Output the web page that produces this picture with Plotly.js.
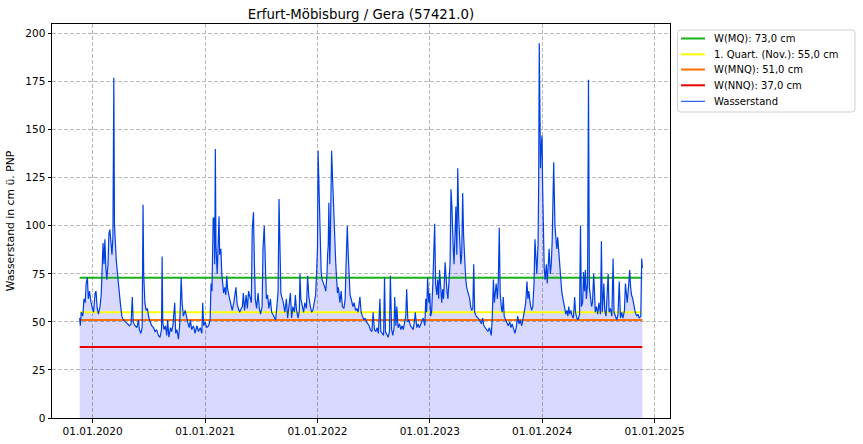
<!DOCTYPE html>
<html><head><meta charset="utf-8">
<script src="https://cdn.plot.ly/plotly-3.0.1.min.js"></script>
<style>body{margin:0;background:#fff}#chart{width:863px;height:444px}</style>
</head><body><div id="chart"></div>
<script>
// Water level series: days since 2020-01-01 and level in cm
const dayOffsets = [
-42,-40,-37,-32,-28,-24,-21,-17,-14,-10,-5,-1,3,8,11,15,19,24,28,31,34,37,40,43,46,50,53,56,59,63,66,69,71,73,77,81,85,90,95,100,107,113,120,125,129,132,138,144,149,152,157,161,164,166,170,174,178,183,187,192,198,203,208,214,219,224,226,228,232,237,241,244,248,253,257,261,267,270,274,279,283,
288,291,295,301,305,309,314,318,322,328,333,339,344,350,355,358,361,366,371,377,382,385,388,392,395,397,399,401,405,408,411,413,417,420,423,426,430,433,436,439,444,447,450,454,459,463,466,470,474,478,483,487,490,494,499,503,507,512,516,519,523,526,529,533,538,542,546,551,554,558,562,565,569,573,578,582,586,591,595,599,603,606,609,612,
615,620,625,630,634,638,643,647,651,656,659,663,668,672,674,677,682,686,690,695,699,703,708,712,716,721,725,728,731,733,737,740,743,746,751,755,758,762,764,766,768,771,773,777,780,783,786,790,793,796,799,804,808,812,817,821,824,828,831,834,837,842,846,850,855,859,863,869,873,877,882,886,890,895,899,903,908,912,916,921,925,929,934,937,941,946,949,952,
955,961,965,968,972,976,980,982,986,989,993,998,1002,1006,1010,1015,1018,1021,1025,1029,1033,1038,1042,1046,1049,1054,1058,1062,1067,1071,1075,1080,1083,1086,1089,1093,1096,1099,1102,1106,1109,1112,1115,1119,1122,1125,1128,1132,1135,1138,1141,1146,1149,1152,1155,1159,1162,1165,1168,1172,1175,1178,1181,1184,1187,1190,1193,1197,1200,1203,1206,1210,1213,1216,1219,1222,1226,1229,1232,1236,1239,1242,1247,1253,1258,1264,1268,1272,1277,1281,1285,1290,1294,
1296,1299,1303,1306,1309,1312,1316,1319,1322,1325,1329,1332,1335,1338,1343,1347,1351,1356,1360,1364,1369,1373,1377,1382,1386,1390,1395,1399,1403,1408,1412,1415,1418,1423,1427,1431,1435,1438,1441,1444,1448,1450,1452,1454,1456,1458,1461,1463,1465,1468,1471,1475,1478,1481,1484,1488,1491,1494,1497,1499,1503,1506,1509,1512,1516,1519,1522,1525,1529,1532,1535,1538,1542,1545,1548,1551,1555,1559,1563,1567,1570,1574,1578,1583,1586,1589,1593,1596,1599,1602,1605,1609,1612,1615,1618,1622,1625,1629,1633,
1634,1638,1642,1646,1651,1654,1657,1662,1665,1669,1672,1676,1679,1683,1688,1692,1695,1699,1704,1708,1712,1716,1720,1724,1729,1732,1735,1738,1743,1746,1749,1752,1756,1760,1764,1769,1773,1777,1782,1785,1787
];
const levels = [
52,48,55,53,62,60,70,73,62,66,60,57,55,65,66,57,54,58,64,78,91,80,93,78,72,80,96,98,90,85,94,177,101,92,82,75,66,60,53,51,50,49,48,49,63,50,48,47,51,46,44,47,111,75,60,56,57,52,50,48,47,45,46,43,42,46,84,50,46,48,43,51,42,47,45,48,60,44,46,41,48,
73,60,53,56,52,50,47,51,46,48,44,48,45,47,44,60,48,50,47,48,51,70,66,104,104,80,140,90,75,86,105,85,88,75,70,65,68,64,74,67,63,61,58,56,60,66,68,59,57,55,57,58,65,56,64,57,66,62,60,98,107,80,62,57,65,57,54,58,88,100,80,62,64,57,62,55,54,52,51,58,66,114,75,65,
63,60,55,62,52,57,65,52,58,55,64,56,52,56,75,62,57,55,60,57,74,63,58,55,56,60,64,75,88,139,110,85,76,72,70,68,66,75,85,90,112,80,95,139,125,110,95,82,73,65,68,60,66,58,57,62,80,100,85,70,64,61,58,60,56,57,55,63,55,53,51,52,50,49,48,46,45,55,46,45,47,44,62,45,44,43,73,45,
44,42,45,74,46,43,47,63,48,58,47,49,46,48,46,52,53,67,50,51,48,47,46,50,55,47,49,47,49,50,52,48,62,55,73,60,65,53,55,70,90,101,70,64,72,62,77,66,60,67,62,81,70,66,62,70,80,119,110,90,80,95,110,85,130,105,90,80,85,117,95,80,72,68,66,64,62,58,56,57,80,55,53,52,51,49,52,48,47,46,45,47,44,
43,52,72,60,66,70,62,72,99,65,57,55,63,53,51,49,48,50,47,49,46,44,47,53,49,51,48,53,55,60,71,62,66,59,56,58,70,93,80,75,90,120,195,150,130,140,147,120,95,78,72,80,70,78,88,75,80,92,120,133,100,92,88,94,85,80,72,66,62,58,57,54,56,53,58,54,56,53,52,63,55,52,51,54,100,58,60,76,66,77,62,70,176,68,62,58,60,75,60,
55,58,54,60,54,92,55,70,56,53,60,75,55,57,53,83,55,53,51,54,71,52,55,52,56,70,64,60,70,77,68,64,62,58,55,53,54,52,53,83,78
];

// Reference levels
const refLabels = ['W(MQ): 73,0 cm', '1. Quart. (Nov.): 55,0 cm', 'W(MNQ): 51,0 cm', 'W(NNQ): 37,0 cm'];
const refValues = [73, 55, 51, 37];
const refColors = ['#19b019', '#ffff00', '#ff6e00', '#e60000'];
const seriesName = 'Wasserstand';
const seriesColor = '#0040e0';

const tickDates = ['2020-01-01', '2021-01-01', '2022-01-01', '2023-01-01', '2024-01-01', '2025-01-01'];
const tickLabels = ['01.01.2020', '01.01.2021', '01.01.2022', '01.01.2023', '01.01.2024', '01.01.2025'];
const yTicks = [0, 25, 50, 75, 100, 125, 150, 175, 200];

function toDate(d) {
  return new Date(Date.UTC(2020, 0, 1) + d * 86400000).toISOString().slice(0, 10);
}
const dates = dayOffsets.map(toDate);
const firstDate = dates[0], lastDate = dates[dates.length - 1];

const W = 863, H = 444;
const M = {l: 52, r: 193, t: 24, b: 26};
const pw = W - M.l - M.r, ph = H - M.t - M.b;
const px = v => (v - M.l) / pw;        // pixel x -> paper x
const py = v => (H - M.b - v) / ph;    // pixel y -> paper y

const traces = [];
traces.push({
  x: dates, y: levels, type: 'scatter', mode: 'lines',
  line: {width: 0, color: 'rgba(0,0,0,0)'}, fill: 'tozeroy', fillcolor: 'rgba(0,0,255,0.15)',
  showlegend: false, hoverinfo: 'skip'
});
refValues.forEach((v, i) => {
  traces.push({
    x: [firstDate, lastDate], y: [v, v], type: 'scatter', mode: 'lines',
    name: refLabels[i], line: {color: refColors[i], width: 2}, showlegend: false
  });
});
traces.push({
  x: dates, y: levels, type: 'scatter', mode: 'lines', name: seriesName,
  line: {color: seriesColor, width: 1.2}, showlegend: false
});

// Custom legend (matplotlib-like compact box)
const legNames = refLabels.concat([seriesName]);
const legColors = refColors.concat([seriesColor]);
const legWidths = [2, 2, 2, 2, 1];
const box = {x0: 677.5, x1: 855, y0: 30, y1: 112};
const r = 3;
const pth = [
  'M', px(box.x0 + r), py(box.y0),
  'L', px(box.x1 - r), py(box.y0),
  'Q', px(box.x1), py(box.y0), px(box.x1), py(box.y0 + r),
  'L', px(box.x1), py(box.y1 - r),
  'Q', px(box.x1), py(box.y1), px(box.x1 - r), py(box.y1),
  'L', px(box.x0 + r), py(box.y1),
  'Q', px(box.x0), py(box.y1), px(box.x0), py(box.y1 - r),
  'L', px(box.x0), py(box.y0 + r),
  'Q', px(box.x0), py(box.y0), px(box.x0 + r), py(box.y0), 'Z'
].join(' ').replace(/ (-?\d)/g, ' $1');
const shapes = [{
  type: 'path', xref: 'paper', yref: 'paper',
  path: 'M' + px(box.x0 + r) + ',' + py(box.y0) +
        ' L' + px(box.x1 - r) + ',' + py(box.y0) +
        ' Q' + px(box.x1) + ',' + py(box.y0) + ' ' + px(box.x1) + ',' + py(box.y0 + r) +
        ' L' + px(box.x1) + ',' + py(box.y1 - r) +
        ' Q' + px(box.x1) + ',' + py(box.y1) + ' ' + px(box.x1 - r) + ',' + py(box.y1) +
        ' L' + px(box.x0 + r) + ',' + py(box.y1) +
        ' Q' + px(box.x0) + ',' + py(box.y1) + ' ' + px(box.x0) + ',' + py(box.y1 - r) +
        ' L' + px(box.x0) + ',' + py(box.y0 + r) +
        ' Q' + px(box.x0) + ',' + py(box.y0) + ' ' + px(box.x0 + r) + ',' + py(box.y0) + ' Z',
  line: {color: '#d0d0d0', width: 1}, fillcolor: 'rgba(255,255,255,0.85)', layer: 'above'
}];
const annotations = [];
const rowY = [38.5, 54.3, 69.5, 85.3, 101.3];
legNames.forEach((name, i) => {
  shapes.push({
    type: 'line', xref: 'paper', yref: 'paper',
    x0: px(681), x1: px(705), y0: py(rowY[i]), y1: py(rowY[i]),
    line: {color: legColors[i], width: legWidths[i]}, layer: 'above'
  });
  annotations.push({
    xref: 'paper', yref: 'paper', x: px(712), y: py(rowY[i]),
    xanchor: 'left', yanchor: 'middle', showarrow: false, text: name,
    font: {family: 'DejaVu Sans', size: 10, color: '#000'}
  });
});

const axisCommon = {
  showline: true, linecolor: '#000', linewidth: 1, mirror: true,
  ticks: 'outside', ticklen: 3.5, tickcolor: '#000', tickwidth: 1,
  showgrid: true, gridcolor: '#b8b8b8', griddash: '4px,2px', gridwidth: 1,
  zeroline: false, tickfont: {family: 'DejaVu Sans', size: 10.5, color: '#000'}
};

const layout = {
  width: W, height: H,
  margin: M,
  paper_bgcolor: '#fff', plot_bgcolor: '#fff',
  font: {family: 'DejaVu Sans', size: 10, color: '#000'},
  title: {text: 'Erfurt-Möbisburg / Gera (57421.0)', font: {family: 'DejaVu Sans', size: 13.3, color: '#000'},
          x: 0.5, xref: 'paper', y: 1 - 14 / H, yref: 'container', yanchor: 'middle'},
  xaxis: Object.assign({}, axisCommon, {
    type: 'date', range: ['2019-08-22', '2025-02-20'],
    tickmode: 'array', tickvals: tickDates, ticktext: tickLabels
  }),
  yaxis: Object.assign({}, axisCommon, {
    range: [0, 205], tickmode: 'array', tickvals: yTicks,
    title: {text: 'Wasserstand in cm ü. PNP', font: {family: 'DejaVu Sans', size: 10.8, color: '#000'}, standoff: 8}
  }),
  shapes: shapes,
  annotations: annotations,
  showlegend: false
};

Plotly.newPlot('chart', traces, layout, {displayModeBar: false, staticPlot: true});
</script>
</body></html>
